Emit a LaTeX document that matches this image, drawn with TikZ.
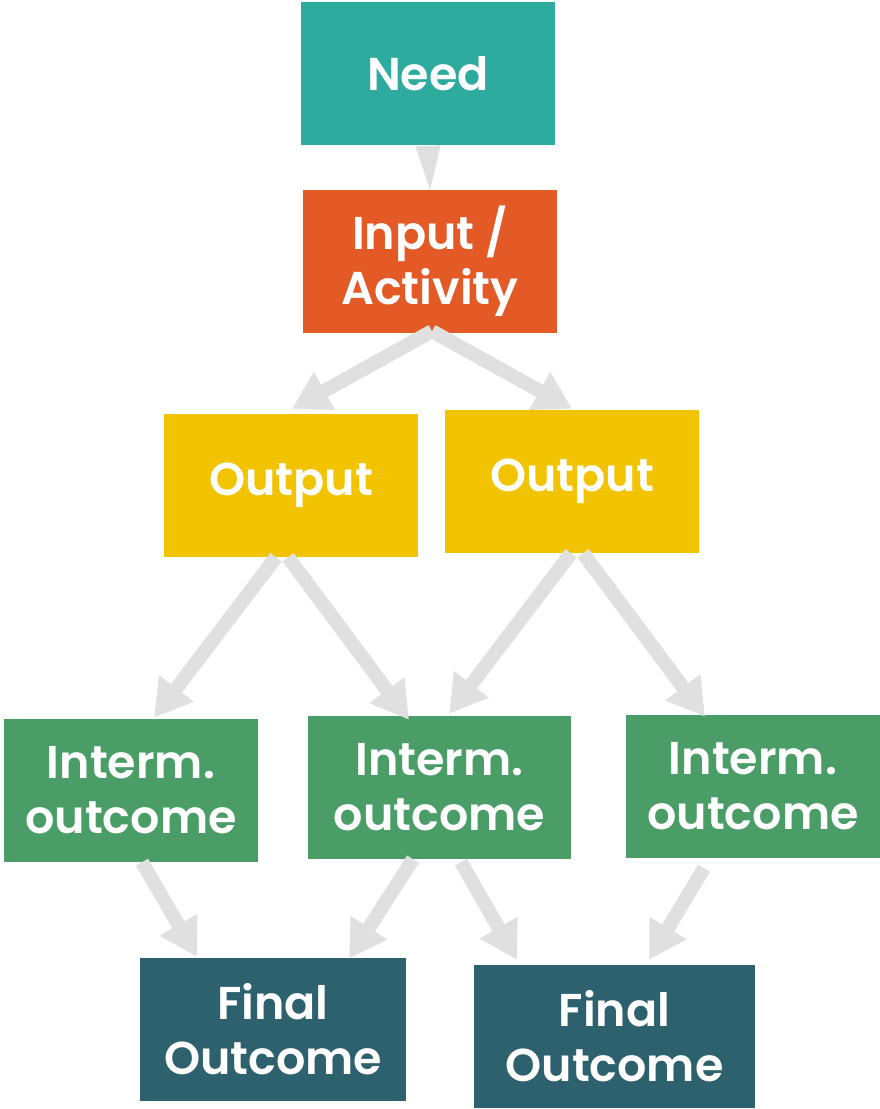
\documentclass[tikz,border=0pt]{standalone}
\usepackage{fontspec}
\setmainfont{Poppins}[BoldFont={Poppins SemiBold}]
\usetikzlibrary{arrows.meta}

\definecolor{needc}{HTML}{2EAB9F}
\definecolor{inputc}{HTML}{E35A26}
\definecolor{outputc}{HTML}{F2C300}
\definecolor{intermc}{HTML}{4A9D66}
\definecolor{finalc}{HTML}{2D616D}
\definecolor{flowc}{HTML}{E0E0E0}

\tikzset{
  box/.style={inner sep=0pt, minimum width=254pt, minimum height=143pt,
    text=white, align=center, font=\fontsize{46}{55}\selectfont\bfseries},
  flow/.style={draw=flowc, line width=14pt, line cap=butt,
    -{Triangle[length=37pt,width=41pt]}},
  flowshort/.style={draw=flowc, line width=1pt,
    -{Triangle[length=44pt,width=25pt]}}
}

\begin{document}
\begin{tikzpicture}[x=1pt,y=-1pt]
\useasboundingbox (0,0) rectangle (880,1109);

% boxes
\node[box, fill=needc]   (need)  at (428,73.5)  {Need};
\node[box, fill=inputc]  (input) at (430,261.5) {Input /\\Activity};
\node[box, fill=outputc] (outL)  at (291,485.5) {Output};
\node[box, fill=outputc] (outR)  at (572,481.5) {Output};
\node[box, fill=intermc] (intL)  at (131,790.5) {Interm.\\outcome};
\node[box, fill=intermc, minimum width=263pt] (intM) at (439.5,787.5) {Interm.\\outcome};
\node[box, fill=intermc] (intR)  at (753,786.5) {Interm.\\outcome};
\node[box, fill=finalc, minimum width=266pt] (finL) at (273,1029.5) {Final\\Outcome};
\node[box, fill=finalc, minimum width=281pt] (finR) at (614.5,1036.5) {Final\\Outcome};

% connectors
\draw[flowshort] (need.south) -- (input.north);
\draw[flow] ([xshift=2pt,yshift=2pt]input.south) -- ([xshift=1pt,yshift=5pt]outL.north);
\draw[flow] ([xshift=2pt,yshift=2pt]input.south) -- ([yshift=1pt]outR.north);
\draw[flow] ([xshift=-15pt]outL.south) -- ([xshift=23pt,yshift=1pt]intL.north);
\draw[flow] ([xshift=-3pt]outL.south) -- ([xshift=-30.5pt,yshift=-4pt]intM.north);
\draw[flow] ([xshift=-1pt]outR.south) -- ([xshift=9.5pt,yshift=2pt]intM.north);
\draw[flow] ([xshift=11pt]outR.south) -- ([xshift=-48pt,yshift=-2pt]intR.north);
\draw[flow] ([xshift=11pt]intL.south) -- ([xshift=-76pt,yshift=1pt]finL.north);
\draw[flow] ([xshift=-26.5pt]intM.south) -- ([xshift=76pt,yshift=-1pt]finL.north);
\draw[flow] ([xshift=21.5pt,yshift=-3pt]intM.south) -- ([xshift=-97.5pt,yshift=5pt]finR.north);
\draw[flow] ([xshift=-49pt,yshift=-10pt]intR.south) -- ([xshift=34.5pt,yshift=5pt]finR.north);
\end{tikzpicture}
\end{document}
